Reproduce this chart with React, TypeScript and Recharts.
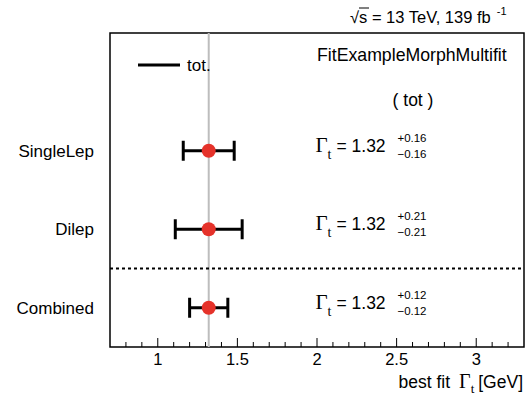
import { ScatterChart, Scatter, XAxis, YAxis, ErrorBar, ReferenceLine, ReferenceArea } from "recharts";

const categories = ["SingleLep", "Dilep", "Combined"];
const rowPos = [3, 2, 1];
const bestFit = [1.32, 1.32, 1.32];
const errUp = [0.16, 0.21, 0.12];
const errDown = [0.16, 0.21, 0.12];
const majorTicks = [1, 1.5, 2, 2.5, 3];
const minorTicks = [0.8, 0.9, 1.1, 1.2, 1.3, 1.4, 1.6, 1.7, 1.8, 1.9, 2.1, 2.2, 2.3, 2.4, 2.6, 2.7, 2.8, 2.9, 3.1, 3.2];

const X_DOMAIN = [0.7, 3.3];
const LABEL_X = 1.99;
const FONT = "'Liberation Sans', Arial, sans-serif";
const SERIF = "'Liberation Serif', 'Times New Roman', serif";

const points = categories.map((name, i) => ({
  name,
  x: bestFit[i],
  y: rowPos[i],
  err: [errDown[i], errUp[i]],
}));

const labels = categories.map((name, i) => ({
  name,
  x: LABEL_X,
  y: rowPos[i],
  value: bestFit[i],
  up: errUp[i],
  down: errDown[i],
}));

const allTicks = [...majorTicks, ...minorTicks].sort((a, b) => a - b);

const BottomTick = ({ x, y, payload }: any) => {
  const major = majorTicks.includes(payload.value);
  return (
    <g>
      <line x1={x} x2={x} y1={y} y2={y - (major ? 9 : 5)} stroke="#000" strokeWidth={1} />
      {major && (
        <text x={x} y={y + 18} textAnchor="middle" fontSize={16.5} fontFamily={FONT} fill="#000">
          {payload.value}
        </text>
      )}
    </g>
  );
};

const TopTick = ({ x, y, payload }: any) => {
  const major = majorTicks.includes(payload.value);
  return <line x1={x} x2={x} y1={y} y2={y + (major ? 9 : 5)} stroke="#000" strokeWidth={1} />;
};

const Dot = ({ cx, cy }: any) => <circle cx={cx} cy={cy} r={7} fill="#e5322a" />;

const ResultLabel = ({ cx, cy, payload }: any) => (
  <g fontFamily={FONT} fill="#000">
    <text x={cx} y={cy + 1} fontSize={17.5}>
      <tspan fontFamily={SERIF} fontSize={21}>Γ</tspan>
      <tspan fontFamily={SERIF} fontSize={14} dy={7}>t</tspan>
      <tspan dx={5} dy={-7}>= {payload.value.toFixed(2)}</tspan>
    </text>
    <text x={cx + 82} y={cy - 9} fontSize={11.5}>+{payload.up.toFixed(2)}</text>
    <text x={cx + 82} y={cy + 7} fontSize={11.5}>−{payload.down.toFixed(2)}</text>
  </g>
);

export default function App() {
  return (
    <div style={{ position: "absolute", left: 0, top: 0, width: 528, height: 398, background: "#fff" }}>
      <ScatterChart width={528} height={398} margin={{ top: 33, right: 4, left: 0, bottom: 24 }}>
        <XAxis
          type="number"
          dataKey="x"
          domain={X_DOMAIN}
          allowDataOverflow
          ticks={allTicks}
          interval={0}
          tick={<BottomTick />}
          tickLine={false}
          tickSize={0}
          tickMargin={0}
          axisLine={false}
          height={27}
        />
        <XAxis
          xAxisId="top"
          orientation="top"
          type="number"
          dataKey="x"
          domain={X_DOMAIN}
          allowDataOverflow
          ticks={allTicks}
          interval={0}
          tick={<TopTick />}
          tickLine={false}
          tickSize={0}
          tickMargin={0}
          axisLine={false}
          height={0}
        />
        <YAxis
          type="number"
          dataKey="y"
          domain={[0.5, 4.5]}
          allowDataOverflow
          ticks={[1, 2, 3]}
          tickFormatter={(v: number) => categories[rowPos.indexOf(v)]}
          tick={{ fontSize: 17, fontFamily: FONT, fill: "#000" }}
          tickLine={false}
          tickMargin={10}
          axisLine={false}
          width={110}
        />
        <ReferenceArea x1={X_DOMAIN[0]} x2={X_DOMAIN[1]} y1={0.5} y2={4.5} fill="none" stroke="#000" strokeWidth={1.5} />
        <ReferenceLine x={1.32} stroke="#bdbdbd" strokeWidth={2} />
        <ReferenceLine y={1.5} stroke="#000" strokeWidth={2} strokeDasharray="3 3" />
        <Scatter data={points} shape={<Dot />} isAnimationActive={false}>
          <ErrorBar dataKey="err" direction="x" width={10} stroke="#000" strokeWidth={3} isAnimationActive={false} />
        </Scatter>
        <Scatter data={labels} xAxisId="top" shape={<ResultLabel />} isAnimationActive={false} />
      </ScatterChart>
      <svg
        width={528}
        height={398}
        style={{ position: "absolute", left: 0, top: 0, pointerEvents: "none" }}
        fontFamily={FONT}
      >
        <text x={350} y={23} fontSize={16.5} fill="#000">
          √s = 13 TeV, 139 fb
          <tspan dx={6} dy={-8} fontSize={11}>-1</tspan>
        </text>
        <line x1={359} x2={369} y1={8} y2={8} stroke="#000" strokeWidth={1} />
        <line x1={138} x2={180} y1={65} y2={65} stroke="#000" strokeWidth={3} />
        <text x={187} y={71} fontSize={17} fill="#000">tot.</text>
        <text x={317} y={61} fontSize={17.7} fill="#000">FitExampleMorphMultifit</text>
        <text x={413} y={106} fontSize={17.5} fill="#000" textAnchor="middle">( tot )</text>
        <text x={523} y={388} fontSize={17.5} fill="#000" textAnchor="end">
          best fit
          <tspan dx={9} fontFamily={SERIF} fontSize={20}>Γ</tspan>
          <tspan fontFamily={SERIF} fontSize={13} dy={5}>t</tspan>
          <tspan dx={4} dy={-5}>[GeV]</tspan>
        </text>
      </svg>
    </div>
  );
}
